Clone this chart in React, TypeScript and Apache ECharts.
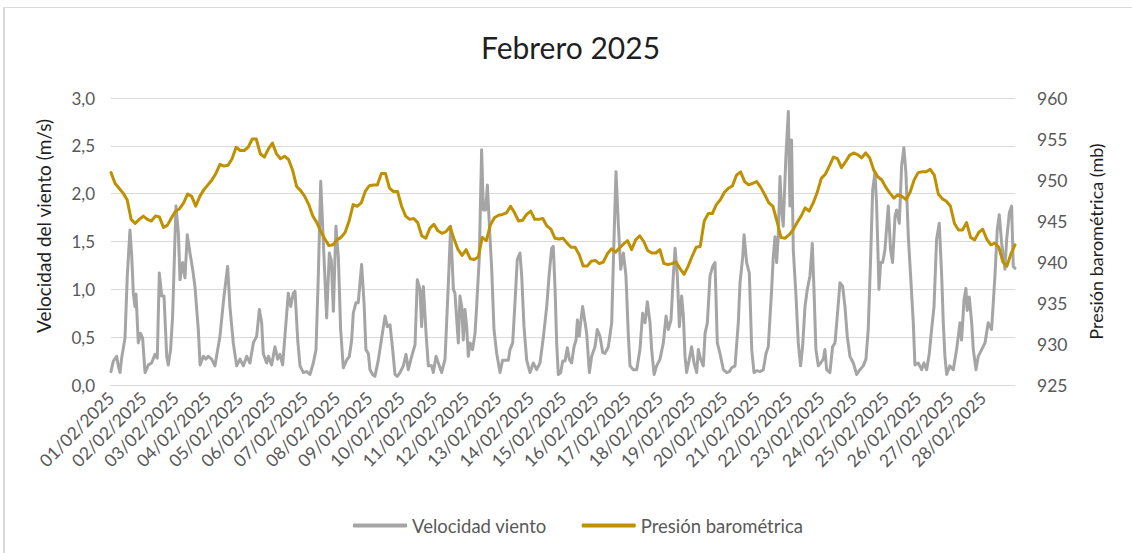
import React, { useEffect, useRef } from "react";
import * as echarts from "echarts";

const chartTitle = "Febrero 2025";
const windName = "Velocidad viento";
const pressureName = "Presión barométrica";
const windAxisName = "Velocidad del viento (m/s)";
const pressureAxisName = "Presión barométrica (mb)";

const dayLabels = [
  "01/02/2025", "02/02/2025", "03/02/2025", "04/02/2025", "05/02/2025", "06/02/2025", "07/02/2025",
  "08/02/2025", "09/02/2025", "10/02/2025", "11/02/2025", "12/02/2025", "13/02/2025", "14/02/2025",
  "15/02/2025", "16/02/2025", "17/02/2025", "18/02/2025", "19/02/2025", "20/02/2025", "21/02/2025",
  "22/02/2025", "23/02/2025", "24/02/2025", "25/02/2025", "26/02/2025", "27/02/2025", "28/02/2025",
];

// hours since 01/02/2025 00:00, wind speed m/s
const windReadings: [number, number][] = [
  [0, 0.14], [1.7, 0.25], [4.2, 0.3], [5.4, 0.2], [6.7, 0.13], [7.9, 0.28], [10.4, 0.49], [12.1, 1.14], [14.1, 1.62], [15.4, 1.35],
  [16.6, 0.96], [17.8, 0.82], [18.6, 0.95], [20.3, 0.44], [22.0, 0.54], [23.5, 0.49], [25.3, 0.13], [27.8, 0.21], [30.2, 0.23], [32.7, 0.32],
  [34.4, 0.28], [35.9, 1.17], [37.7, 0.93], [39.4, 0.93], [41.4, 0.3], [42.6, 0.21], [44.3, 0.37], [45.8, 0.72], [48.3, 1.87], [50.1, 1.59],
  [51.3, 1.1], [53.3, 1.28], [55.0, 1.12], [56.7, 1.57], [58.7, 1.38], [60.7, 1.21], [62.4, 1.03], [64.9, 0.58], [66.2, 0.21], [68.6, 0.3],
  [70.6, 0.27], [72.3, 0.3], [74.8, 0.27], [77.3, 0.2], [81.0, 0.51], [84.0, 0.93], [86.7, 1.24], [88.4, 0.82], [90.9, 0.44], [93.4, 0.2],
  [95.9, 0.27], [98.4, 0.2], [100.9, 0.3], [103.3, 0.23], [105.8, 0.44], [108.3, 0.51], [110.3, 0.79], [112.0, 0.65], [113.2, 0.33], [115.7, 0.23],
  [117.0, 0.3], [119.4, 0.21], [121.9, 0.4], [123.9, 0.27], [125.6, 0.32], [127.6, 0.21], [129.3, 0.51], [131.8, 0.96], [133.6, 0.82], [135.5, 0.96],
  [136.8, 0.98], [138.8, 0.47], [140.5, 0.2], [143.0, 0.13], [145.5, 0.14], [147.9, 0.11], [150.4, 0.23], [152.4, 0.37], [154.1, 1.14], [155.9, 2.13],
  [160.3, 0.7], [162.3, 1.38], [163.8, 1.3], [165.3, 0.77], [167.2, 1.66], [169.0, 1.34], [170.7, 0.58], [172.7, 0.18], [175.2, 0.26], [177.2, 0.3],
  [178.9, 0.47], [180.1, 0.75], [182.1, 0.86], [183.8, 0.86], [186.3, 1.26], [188.1, 0.86], [189.5, 0.37], [191.3, 0.33], [192.5, 0.16], [194.5, 0.11],
  [196.2, 0.09], [198.7, 0.26], [201.2, 0.49], [203.7, 0.72], [205.4, 0.61], [207.4, 0.63], [209.4, 0.37], [211.1, 0.11], [212.8, 0.09], [214.8, 0.13],
  [217.3, 0.2], [219.3, 0.32], [221.0, 0.16], [223.5, 0.3], [226.0, 0.42], [227.7, 1.1], [229.7, 1.0], [230.9, 0.61], [232.2, 1.03], [234.2, 0.54],
  [235.9, 0.2], [238.4, 0.2], [239.6, 0.13], [241.6, 0.3], [243.3, 0.23], [245.8, 0.13], [248.3, 0.27], [250.8, 1.07], [252.5, 1.66], [254.5, 1.0],
  [255.7, 0.96], [257.0, 0.68], [258.2, 0.44], [259.4, 0.93], [260.7, 0.82], [261.9, 0.47], [263.1, 0.79], [264.4, 0.61], [265.6, 0.3], [266.9, 0.44],
  [268.8, 0.37], [270.6, 0.54], [271.8, 0.82], [273.8, 1.34], [275.5, 2.46], [276.8, 1.83], [278.5, 1.83], [279.8, 2.09], [281.7, 1.55], [283.0, 1.21],
  [284.7, 0.58], [286.7, 0.33], [289.2, 0.13], [291.1, 0.26], [292.9, 0.26], [295.4, 0.26], [296.6, 0.37], [298.6, 0.44], [300.3, 0.86], [302.0, 1.31],
  [304.0, 1.38], [305.3, 1.14], [307.0, 0.61], [309.0, 0.26], [311.5, 0.13], [313.9, 0.23], [316.4, 0.16], [318.9, 0.23], [321.4, 0.5], [323.9, 0.82],
  [325.8, 1.17], [327.6, 1.43], [328.8, 1.45], [330.1, 1.0], [331.3, 0.44], [332.5, 0.11], [334.3, 0.13], [335.8, 0.25], [337.5, 0.25], [339.2, 0.39],
  [340.7, 0.27], [342.4, 0.23], [344.2, 0.4], [345.7, 0.47], [346.7, 0.68], [348.1, 0.51], [349.1, 0.65], [350.6, 0.82], [352.4, 0.65], [353.6, 0.54],
  [355.6, 0.13], [357.3, 0.3], [359.8, 0.4], [361.5, 0.58], [363.5, 0.51], [365.5, 0.34], [367.2, 0.33], [369.7, 0.4], [372.2, 0.65], [373.9, 1.52],
  [375.4, 2.23], [377.1, 1.69], [378.9, 1.21], [380.9, 1.38], [382.8, 1.14], [384.6, 0.51], [385.8, 0.2], [388.3, 0.16], [390.8, 0.16], [393.2, 0.37],
  [395.2, 0.75], [397.0, 0.65], [398.7, 0.87], [400.7, 0.65], [401.9, 0.37], [403.7, 0.11], [405.6, 0.2], [408.1, 0.27], [410.6, 0.44], [412.6, 0.72],
  [414.3, 0.58], [416.3, 0.68], [418.0, 1.14], [419.3, 1.43], [421.0, 1.14], [422.5, 0.61], [424.2, 0.93], [425.5, 0.72], [426.7, 0.3], [427.9, 0.13],
  [429.9, 0.27], [431.6, 0.4], [433.4, 0.23], [435.4, 0.13], [436.6, 0.37], [438.3, 0.27], [440.3, 0.2], [441.6, 0.54], [443.3, 0.65], [445.3, 1.14],
  [447.3, 1.24], [449.0, 1.28], [450.7, 0.44], [452.7, 0.33], [455.2, 0.16], [457.7, 0.13], [459.7, 0.14], [461.4, 0.18], [463.9, 0.2], [466.3, 0.65],
  [467.6, 1.07], [469.6, 1.34], [470.6, 1.57], [472.5, 1.28], [474.5, 1.17], [476.3, 0.37], [478.0, 0.13], [480.0, 0.15], [482.5, 0.14], [484.9, 0.16],
  [486.9, 0.33], [488.6, 0.4], [491.1, 1.0], [492.3, 1.34], [493.6, 1.55], [494.8, 1.28], [496.0, 1.55], [497.3, 2.18], [498.5, 1.83], [499.7, 1.66],
  [501.7, 2.39], [503.5, 2.86], [504.7, 1.87], [505.9, 2.56], [507.2, 1.41], [509.2, 0.93], [510.9, 0.44], [512.6, 0.2], [514.1, 0.4], [515.9, 0.82],
  [517.6, 1.0], [519.6, 1.14], [521.3, 1.48], [522.5, 1.03], [524.0, 0.37], [525.8, 0.2], [527.5, 0.23], [529.5, 0.27], [530.7, 0.37], [532.0, 0.16],
  [534.4, 0.13], [536.4, 0.4], [538.2, 0.44], [539.9, 0.72], [541.9, 1.07], [543.9, 1.03], [545.6, 0.82], [547.3, 0.51], [549.3, 0.3], [551.8, 0.23],
  [554.3, 0.11], [556.7, 0.16], [559.2, 0.2], [561.2, 0.27], [562.9, 0.58], [564.7, 1.34], [566.2, 2.04], [567.9, 2.22], [569.1, 1.9], [570.9, 1.0],
  [572.1, 1.28], [573.6, 1.28], [575.3, 1.41], [577.8, 1.87], [579.5, 1.41], [581.0, 1.28], [582.8, 1.76], [584.0, 1.83], [586.0, 1.69], [587.7, 2.29],
  [589.4, 2.48], [590.9, 2.22], [592.7, 1.55], [594.4, 1.14], [596.4, 0.65], [597.6, 0.21], [600.1, 0.23], [602.6, 0.16], [604.3, 0.23], [606.3, 0.16],
  [608.3, 0.33], [610.0, 0.58], [611.8, 0.82], [613.7, 1.52], [615.7, 1.69], [617.5, 1.14], [618.7, 0.65], [619.9, 0.3], [621.2, 0.11], [623.6, 0.2],
  [626.1, 0.16], [628.6, 0.37], [631.1, 0.65], [632.3, 0.47], [634.1, 0.89], [635.5, 1.01], [636.5, 0.78], [638.0, 0.92], [639.8, 0.65], [641.0, 0.37],
  [643.0, 0.16], [644.7, 0.3], [647.2, 0.37], [649.7, 0.44], [652.1, 0.65], [654.6, 0.58], [657.1, 1.14], [658.8, 1.62], [660.3, 1.78], [662.1, 1.48],
  [664.5, 1.21], [665.8, 1.52], [667.8, 1.8], [669.5, 1.87], [670.7, 1.24], [672.0, 1.22],
];

// pressure every 3 hours from 01/02/2025 00:00 (mb)
const pressureStepHours = 3;
const pressureValues = [
  950.9, 949.6, 949.0, 948.4, 947.6, 945.2, 944.7, 945.2,
  945.6, 945.2, 945.0, 945.6, 945.5, 944.2, 944.5, 945.4,
  946.2, 946.5, 947.2, 948.3, 948.0, 946.8, 948.0, 948.8,
  949.4, 950.0, 950.8, 951.9, 951.7, 951.8, 952.6, 954.0,
  953.6, 953.6, 954.0, 955.0, 955.0, 953.2, 952.8, 953.8,
  954.5, 953.2, 952.6, 952.9, 952.5, 951.2, 949.2, 948.7,
  948.0, 947.0, 945.6, 944.8, 943.7, 942.8, 942.0, 942.1,
  942.7, 943.0, 943.6, 945.0, 947.0, 946.8, 947.2, 948.6,
  949.3, 949.4, 949.4, 950.8, 950.8, 949.0, 948.6, 948.6,
  946.8, 945.6, 945.2, 945.3, 944.8, 943.2, 942.9, 944.1,
  944.6, 943.8, 943.5, 943.7, 944.3, 942.8, 941.5, 940.8,
  941.5, 940.4, 940.3, 940.6, 943.0, 942.6, 944.5, 945.4,
  945.7, 945.8, 946.0, 946.8, 946.0, 945.0, 945.1, 945.8,
  946.2, 945.2, 945.2, 945.3, 944.4, 944.0, 942.9, 942.8,
  942.9, 942.3, 941.8, 941.8, 940.9, 939.5, 939.5, 940.1,
  940.2, 939.8, 940.0, 941.0, 941.6, 941.2, 941.7, 942.2,
  942.6, 941.5, 942.7, 943.2, 942.5, 941.4, 941.1, 941.1,
  941.5, 939.8, 939.7, 939.8, 940.0, 939.2, 938.5, 939.5,
  940.7, 941.8, 941.9, 945.0, 945.9, 945.9, 947.0, 947.6,
  948.5, 949.0, 949.3, 950.6, 951.0, 949.8, 949.4, 949.6,
  949.8, 949.1, 948.2, 947.2, 946.8, 945.0, 943.0, 942.9,
  943.3, 943.9, 944.8, 945.6, 946.6, 946.2, 947.2, 948.5,
  950.2, 950.7, 951.7, 952.8, 952.6, 951.5, 952.2, 953.0,
  953.3, 953.1, 952.7, 953.3, 952.7, 951.2, 950.4, 950.0,
  949.1, 948.4, 947.8, 948.2, 948.0, 947.6, 948.5, 950.0,
  950.9, 951.0, 951.0, 951.3, 950.6, 948.3, 947.7, 947.4,
  946.8, 944.7, 943.9, 943.9, 944.8, 943.0, 942.7, 943.6,
  944.0, 942.8, 942.1, 942.3, 941.8, 940.0, 939.5, 941.0,
  942.1,
];

const TEXT = "#595959";
const FONT = "Lato";

export default function App() {
  const ref = useRef<HTMLDivElement>(null);
  useEffect(() => {
    if (!ref.current) return;
    const chart = echarts.init(ref.current, undefined, { renderer: "svg" });
    const hoursPerDay = 24;
    const totalHours = dayLabels.length * hoursPerDay;
    chart.setOption({
      animation: false,
      backgroundColor: "#ffffff",
      textStyle: { fontFamily: FONT },
      grid: { left: 111, right: 117, top: 98, bottom: 168 },
      graphic: [
        { type: "line", shape: { x1: 4, y1: 7, x2: 4, y2: 560 }, style: { stroke: "#D9D9D9", lineWidth: 2 }, silent: true },
        { type: "line", shape: { x1: 3, y1: 7.5, x2: 1140, y2: 7.5 }, style: { stroke: "#D9D9D9", lineWidth: 1 }, silent: true },
        {
          type: "text", x: 570.5, y: 47,
          style: { text: chartTitle, fill: "#1f1f1f", font: `30px ${FONT}`, textAlign: "center", textVerticalAlign: "middle" },
        },
        {
          type: "text", x: 43, y: 226, rotation: Math.PI / 2,
          style: { text: windAxisName, fill: "#1f1f1f", font: `19px ${FONT}`, textAlign: "center", textVerticalAlign: "middle" },
        },
        {
          type: "text", x: 1096, y: 241.5, rotation: Math.PI / 2,
          style: { text: pressureAxisName, fill: "#1f1f1f", font: `18px ${FONT}`, textAlign: "center", textVerticalAlign: "middle" },
        },
      ],
      legend: {
        left: 348, top: 511,
        itemWidth: 54, itemHeight: 4, itemGap: 35,
        icon: "roundRect",
        textStyle: { color: TEXT, fontSize: 18.5, fontFamily: FONT, padding: [0, 0, 0, 0] },
        data: [windName, pressureName],
      },
      xAxis: {
        type: "value", min: 0, max: totalHours, interval: hoursPerDay,
        axisLine: { show: true, onZero: false, lineStyle: { color: "#D9D9D9", width: 1 } },
        axisTick: { show: false },
        splitLine: { show: false },
        axisLabel: {
          rotate: 45, margin: 10, color: TEXT, fontSize: 17.5, fontFamily: FONT,
          showMaxLabel: false,
          formatter: (v: number) => dayLabels[Math.round(v / hoursPerDay)] ?? "",
        },
      },
      yAxis: [
        {
          type: "value", min: 0, max: 3, interval: 0.5,
          axisLine: { show: false }, axisTick: { show: false },
          splitLine: { show: true, lineStyle: { color: "#D9D9D9", width: 1 } },
          axisLabel: { margin: 16, color: TEXT, fontSize: 17, fontFamily: FONT, formatter: (v: number) => v.toFixed(1).replace(".", ",") },
        },
        {
          type: "value", position: "right", min: 925, max: 960, interval: 5,
          axisLine: { show: false }, axisTick: { show: false }, splitLine: { show: false },
          axisLabel: { margin: 22, color: TEXT, fontSize: 17.5, fontFamily: FONT },
        },
      ],
      series: [
        {
          name: windName, type: "line", yAxisIndex: 0, data: windReadings,
          symbol: "none", color: "#A5A5A5",
          lineStyle: { color: "#A5A5A5", width: 3, cap: "round", join: "round" },
        },
        {
          name: pressureName, type: "line", yAxisIndex: 1,
          data: pressureValues.map((v, i) => [i * pressureStepHours, v]),
          symbol: "none", color: "#BF9000",
          lineStyle: { color: "#BF9000", width: 3, cap: "round", join: "round" },
        },
      ],
    });
    return () => chart.dispose();
  }, []);
  return <div ref={ref} style={{ position: "fixed", left: 0, top: 0, width: 1132, height: 553, background: "#fff" }} />;
}
